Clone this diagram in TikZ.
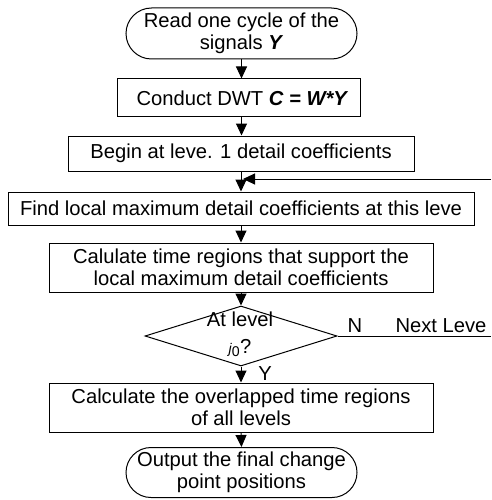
\documentclass[tikz,border=0pt]{standalone}
\usepackage{fontspec}
\setmainfont{Liberation Sans}
\usetikzlibrary{shapes.geometric,shapes.misc,arrows.meta}
\begin{document}
\begin{tikzpicture}[x=1pt,y=-1pt,
  every node/.style={font=\fontsize{20.2}{22.5}\selectfont, inner sep=0pt},
  box/.style={draw, line width=1pt, rectangle, align=center},
  term/.style={draw, line width=1pt, rounded rectangle, align=center},
  arr/.style={line width=1pt, -{Triangle[length=12pt,width=11pt]}},
  ln/.style={line width=1pt}]
\useasboundingbox (0,0) rectangle (491,500);
\node[term, minimum width=231pt, minimum height=51pt] (read) at (241.5,33.5) {Read one cycle of the\\signals \textbf{\textit{Y}}};
\node[box, minimum width=243pt, minimum height=38pt] (dwt) at (238.5,98) {\hspace*{8pt}Conduct DWT \textbf{\textit{C = W*Y}}};
\node[box, minimum width=346pt, minimum height=35pt] (begin) at (241,153.5) {Begin at leve. 1 detail coefficients};
\node[box, minimum width=466pt, minimum height=33pt] (find) at (241,208.5) {Find local maximum detail coefficients at this leve};
\node[box, minimum width=384pt, minimum height=49pt] (calc) at (241,267.5) {Calulate time regions that support the\\local maximum detail coefficients};
\node[diamond, draw, line width=1pt, minimum width=192pt, minimum height=60pt] (dec) at (241,336) {};
\node (atl) at (240,319) {At level};
\node (j0) at (240,348) {{\fontsize{14}{14}\selectfont\itshape j}\textsubscript{0}?};
\node (N) at (355,326) {N};
\node (next) at (441,326) {Next Leve};
\node (Y) at (265,374) {Y};
\node[box, minimum width=384pt, minimum height=49pt] (over) at (241,407.5) {Calculate the overlapped time regions\\of all levels};
\node[term, minimum width=231pt, minimum height=50pt] (out) at (241.5,472.5) {Output the final change\\point positions};
\coordinate (fb) at (491,179);
\coordinate (nx) at (491,336);
\draw[arr] (read.south) -- (read.south |- dwt.north);
\draw[arr] (read.south |- dwt.south) -- (read.south |- begin.north);
\draw[arr] (begin.south) -- (find.north);
\draw[arr] (fb) -- ([xshift=2pt]begin.south |- fb);
\draw[arr] (find.south) -- (calc.north);
\draw[arr] (calc.south) -- (dec.north);
\draw[ln] (dec.east) -- (nx);
\draw[arr] (dec.south) -- (over.north);
\draw[arr] (over.south) -- (out.north);
\end{tikzpicture}
\end{document}
